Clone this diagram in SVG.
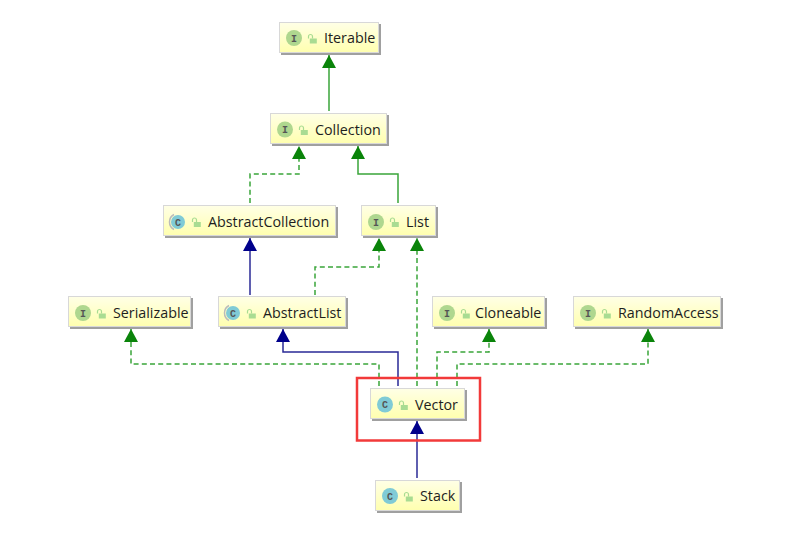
<svg xmlns="http://www.w3.org/2000/svg" width="794" height="540" viewBox="0 0 794 540">
<defs>
<linearGradient id="g" x1="0" y1="0" x2="0" y2="1"><stop offset="0" stop-color="#ffffe6"/><stop offset="1" stop-color="#ffffaf"/></linearGradient>
<marker id="ag" markerUnits="userSpaceOnUse" markerWidth="15" markerHeight="15" refX="13" refY="7" orient="auto"><path d="M0 0L13 7L0 14Z" fill="#0a840a"/></marker>
<marker id="ab" markerUnits="userSpaceOnUse" markerWidth="15" markerHeight="15" refX="13" refY="7" orient="auto"><path d="M0 0L13 7L0 14Z" fill="#00008b"/></marker>
<g id="lock"><rect x="1.800" y="0" width="7" height="5" fill="#a9dc92"/><path d="M0.500 0v-2a2 2 0 0 1 4 0v2" fill="none" stroke="#a9dc92" stroke-width="1.200"/></g>
<path id="arc" d="M-4 -7.500A8.500 8.500 0 0 0 -4 7.500" fill="none" stroke="#bbb" stroke-width="1.500"/>
</defs>
<style>
.box{fill:url(#g);stroke:#d8d8d8;stroke-width:1}
.sh{fill:#a0a0a0}
.t{font-family:"Open Sans","DejaVu Sans",sans-serif;font-size:14.300px;fill:#1e1e1e}
.ic{fill:#afd78f}.cc{fill:#80cbd6}
.l{font-family:"Liberation Mono",monospace;font-size:10px;font-weight:bold;fill:#555;text-anchor:middle}
.g{fill:none;stroke:#3aa53a;stroke-width:1.500;marker-end:url(#ag)}
.d{stroke-dasharray:5 3.200}
.b{fill:none;stroke:#2a2a96;stroke-width:1.500;marker-end:url(#ab)}
</style>
<rect width="794" height="540" fill="#fff"/>
<g id="connectors">
<path class="g" d="M329 111V55"/>
<path class="g d" d="M250 203V174H299V146"/>
<path class="g" d="M398 203V174H358V146"/>
<path class="b" d="M250 295V238"/>
<path class="g d" d="M315 295V267H379V238"/>
<path class="g d" d="M417 386V238"/>
<path class="b" d="M398 386V352H283V329"/>
<path class="g d" d="M379 386V364H131V329"/>
<path class="g d" d="M437 386V352H489V329"/>
<path class="g d" d="M457 386V364H648V329"/>
<path class="b" d="M417 478V421"/>
</g>
<rect id="highlight" x="357" y="378" width="123" height="62.500" fill="none" stroke="#f23a3a" stroke-width="2.500"/>
<g id="iterable"><rect class="sh" x="281" y="24" width="100" height="31"/><rect class="box" x="279.500" y="22.500" width="99" height="30"/><circle class="ic" cx="294" cy="38" r="8"/><text class="l" x="294" y="41.500">I</text><use href="#lock" x="308" y="38.500"/><text class="t" x="324" y="43">Iterable</text></g>
<g id="collection"><rect class="sh" x="272" y="115" width="117" height="31"/><rect class="box" x="270.500" y="113.500" width="116" height="30"/><circle class="ic" cx="285" cy="129.500" r="8"/><text class="l" x="285" y="133">I</text><use href="#lock" x="299" y="130"/><text class="t" x="315" y="134.500">Collection</text></g>
<g id="abstractcollection"><rect class="sh" x="165" y="207" width="173" height="31"/><rect class="box" x="163.500" y="205.500" width="172" height="30"/><circle class="cc" cx="178" cy="222" r="7"/><use href="#arc" x="178" y="222"/><text class="l" x="178" y="225.500">C</text><use href="#lock" x="192" y="222"/><text class="t" x="208" y="226.500">AbstractCollection</text></g>
<g id="list"><rect class="sh" x="363" y="207" width="75" height="31"/><rect class="box" x="361.500" y="205.500" width="74" height="30"/><circle class="ic" cx="376" cy="222" r="8"/><text class="l" x="376" y="225.500">I</text><use href="#lock" x="390" y="222"/><text class="t" x="406" y="226.500">List</text></g>
<g id="serializable"><rect class="sh" x="70" y="298" width="123" height="31"/><rect class="box" x="68.500" y="296.500" width="122" height="30"/><circle class="ic" cx="83" cy="313" r="8"/><text class="l" x="83" y="316.500">I</text><use href="#lock" x="97" y="313.500"/><text class="t" x="113" y="318">Serializable</text></g>
<g id="abstractlist"><rect class="sh" x="220" y="298" width="128" height="31"/><rect class="box" x="218.500" y="296.500" width="127" height="30"/><circle class="cc" cx="233" cy="313" r="7"/><use href="#arc" x="233" y="313"/><text class="l" x="233" y="316.500">C</text><use href="#lock" x="247" y="313.500"/><text class="t" x="263" y="318">AbstractList</text></g>
<g id="cloneable"><rect class="sh" x="434" y="298" width="113" height="31"/><rect class="box" x="432.500" y="296.500" width="112" height="30"/><circle class="ic" cx="447" cy="313" r="8"/><text class="l" x="447" y="316.500">I</text><use href="#lock" x="461" y="313.500"/><text class="t" x="475" y="318">Cloneable</text></g>
<g id="randomaccess"><rect class="sh" x="575" y="298" width="148" height="31"/><rect class="box" x="573.500" y="296.500" width="147" height="30"/><circle class="ic" cx="588" cy="313" r="8"/><text class="l" x="588" y="316.500">I</text><use href="#lock" x="602" y="313.500"/><text class="t" x="618" y="318">RandomAccess</text></g>
<g id="vector"><rect class="sh" x="372" y="390" width="95" height="31"/><rect class="box" x="370.500" y="388.500" width="94" height="30"/><circle class="cc" cx="385" cy="404.500" r="8"/><text class="l" x="385" y="408">C</text><use href="#lock" x="399" y="405"/><text class="t" x="415" y="409.500">Vector</text></g>
<g id="stack"><rect class="sh" x="377" y="482" width="85" height="31"/><rect class="box" x="375.500" y="480.500" width="84" height="30"/><circle class="cc" cx="390" cy="496" r="8"/><text class="l" x="390" y="499.500">C</text><use href="#lock" x="404" y="496.500"/><text class="t" x="420" y="501">Stack</text></g>
</svg>
